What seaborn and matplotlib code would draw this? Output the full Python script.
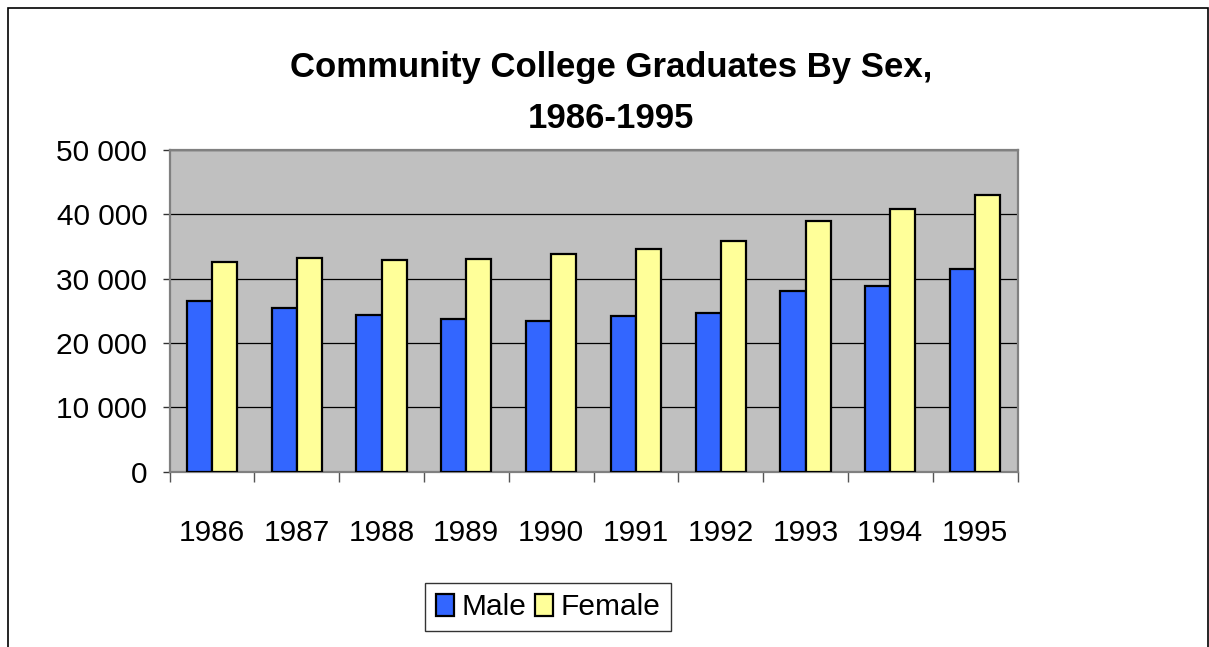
import numpy as np
import pandas as pd
import seaborn as sns
import matplotlib.pyplot as plt
from matplotlib.ticker import FuncFormatter, FixedLocator
from matplotlib.patches import Rectangle

# 数据
years = ['1986', '1987', '1988', '1989', '1990', '1991', '1992', '1993', '1994', '1995']
male = [26500, 25400, 24300, 23700, 23400, 24100, 24700, 28100, 28900, 31500]
female = [32500, 33200, 32800, 33000, 33800, 34600, 35800, 39000, 40800, 43000]

df = pd.DataFrame({
    'year': years * 2,
    'graduates': male + female,
    'sex': ['Male'] * len(years) + ['Female'] * len(years),
})

colors = {'Male': '#3366FF', 'Female': '#FFFF99'}

sns.set_style('white')
plt.rcParams['font.family'] = ['Liberation Sans', 'DejaVu Sans']
plt.rcParams['text.color'] = 'black'
plt.rcParams['xtick.color'] = 'black'
plt.rcParams['ytick.color'] = 'black'

fig = plt.figure(figsize=(12.09, 6.47), dpi=100)
ax = fig.add_axes([169.5 / 1209, 1 - 471.7 / 647, 848 / 1209, 322 / 647])
ax.set_facecolor('#C0C0C0')

sns.barplot(data=df, x='year', y='graduates', hue='sex', palette=colors,
            width=0.59, edgecolor='black', linewidth=1.6, saturation=1,
            ax=ax, zorder=3)

ax.set_ylim(0, 50000)
ax.set_xlim(-0.5, len(years) - 0.5)
ax.set_yticks(np.arange(0, 50001, 10000))
ax.yaxis.set_major_formatter(FuncFormatter(lambda v, p: f"{int(v):,}".replace(',', ' ')))
ax.grid(axis='y', color='black', linewidth=0.9, zorder=0)
ax.set_axisbelow(True)

# x 轴: 刻度在类别之间, 标签在中间
ax.xaxis.set_major_locator(FixedLocator(np.arange(-0.5, len(years), 1)))
ax.xaxis.set_minor_locator(FixedLocator(np.arange(len(years))))
ax.set_xticklabels([''] * (len(years) + 1))
ax.set_xticklabels(years, minor=True)
ax.tick_params(axis='x', which='major', direction='out', length=7, width=1, color='#555555', bottom=True)
ax.tick_params(axis='x', which='minor', length=0, pad=34, labelsize=21.5, labelcolor='black')
ax.tick_params(axis='y', direction='out', length=5, width=1, color='#333333', left=True, pad=11,
               labelsize=21.5, labelcolor='black')
ax.set_xlabel('')
ax.set_ylabel('')

for s in ax.spines.values():
    s.set_color('#808080')
    s.set_linewidth(1.6)

# 标题
fig.text(611 / 1209, 1 - 93 / 647, 'Community College Graduates By Sex,\n1986-1995',
         ha='center', va='center', fontsize=25, fontweight='bold', linespacing=1.7, color='black')

# 图例
ax.legend_.remove()
handles, labels = ax.get_legend_handles_labels()
leg = fig.legend(handles, labels, loc='center', bbox_to_anchor=(548 / 1209, 1 - 607 / 647),
                 ncol=2, fontsize=21.5, frameon=True, fancybox=False, edgecolor='black',
                 handlelength=0.6, handleheight=0.75, handletextpad=0.25, columnspacing=0.3,
                 borderpad=0.35, borderaxespad=0)
leg.get_frame().set_linewidth(1.0)
for t in leg.get_texts():
    t.set_color('black')

# 外框
fig.add_artist(Rectangle((8 / 1209, -0.05), 1200 / 1209, 1.05 - 8 / 647,
                         transform=fig.transFigure, fill=False, edgecolor='black', linewidth=1.2))

fig.savefig('out.png', dpi=100)
